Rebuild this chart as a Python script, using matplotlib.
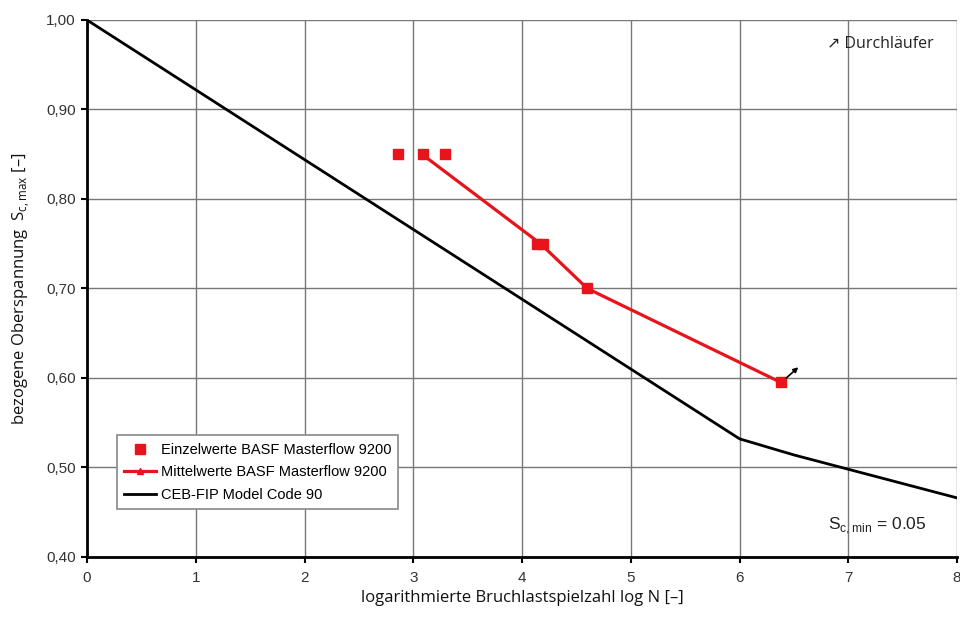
import matplotlib
matplotlib.use("Agg")
import matplotlib.pyplot as plt

# Data
einzel_x = [2.86, 3.09, 3.29, 4.14, 4.19, 4.60, 6.38]
einzel_y = [0.85, 0.85, 0.85, 0.75, 0.75, 0.70, 0.595]
mittel_x = [3.08, 4.17, 4.60, 6.38]
mittel_y = [0.85, 0.75, 0.70, 0.595]
ceb_x = [0, 6, 6.5, 7, 7.5, 8]
ceb_y = [1.00, 0.532, 0.514, 0.498, 0.482, 0.466]
runout_from = (6.43, 0.600)
runout_to = (6.54, 0.612)
xticks = [0, 1, 2, 3, 4, 5, 6, 7, 8]
yticks = [0.40, 0.50, 0.60, 0.70, 0.80, 0.90, 1.00]
ytick_labels = ["0,40", "0,50", "0,60", "0,70", "0,80", "0,90", "1,00"]

plt.rcParams['font.family'] = ['Liberation Sans', 'DejaVu Sans']

fig = plt.figure(figsize=(9.6, 6.19), dpi=100)
ax = fig.add_axes([0.0906, 0.1002, 0.9064, 0.8675])

red = '#e8141c'
ax.plot(ceb_x, ceb_y, color='black', lw=2.0, label='CEB-FIP Model Code 90', zorder=3)
ax.plot(mittel_x, mittel_y, color=red, lw=2.3, marker='^', markersize=4,
        label='Mittelwerte BASF Masterflow 9200', zorder=4)
ax.plot(einzel_x, einzel_y, ls='none', marker='s', color=red, markersize=7,
        label='Einzelwerte BASF Masterflow 9200', zorder=5)
ax.annotate('', xy=runout_to, xytext=runout_from,
            arrowprops=dict(arrowstyle='-|>', color='black', lw=1.2,
                            mutation_scale=7, shrinkA=0, shrinkB=0), zorder=6)

ax.set_xlim(0, 8)
ax.set_ylim(0.40, 1.00)
ax.set_xticks(xticks)
ax.set_yticks(yticks)
ax.set_yticklabels(ytick_labels)
ax.grid(True, color='#777777', lw=1.0)
ax.set_axisbelow(True)
for s in ['top', 'right']:
    ax.spines[s].set_visible(False)
for s in ['left', 'bottom']:
    ax.spines[s].set_linewidth(2.0)
ax.tick_params(axis='both', direction='out', length=4, width=1.5,
               labelsize=11, labelcolor='#333333')
ax.tick_params(axis='y', pad=4)
ax.tick_params(axis='x', pad=6)

ax.set_xlabel('logarithmierte Bruchlastspielzahl log N [–]', fontsize=12,
              family=['Open Sans', 'DejaVu Sans'], labelpad=4, color='#111111')
ax.set_ylabel(r'bezogene Oberspannung  S$_{\mathregular{c,max}}$ [–]', fontsize=12,
              family=['Open Sans', 'DejaVu Sans'], labelpad=10, color='#111111')

ax.text(0.973, 0.955, '↗ Durchläufer', transform=ax.transAxes, ha='right', va='center',
        fontsize=11.5, family=['Open Sans', 'DejaVu Sans'], color='#222222')
ax.text(0.965, 0.058, r'S$_{\mathregular{c,min}}$ = 0.05', transform=ax.transAxes,
        ha='right', va='center', fontsize=12.5, color='#222222')

handles, labels = ax.get_legend_handles_labels()
order = [2, 1, 0]
leg = ax.legend([handles[i] for i in order], [labels[i] for i in order],
                loc='upper left', bbox_to_anchor=(0.026, 0.24), fontsize=10.5,
                frameon=True, fancybox=False, edgecolor='#888888', framealpha=1,
                handlelength=2.2, borderpad=0.5, labelspacing=0.6, handletextpad=0.3)
leg.get_frame().set_linewidth(1.2)

fig.savefig('out.png', dpi=100)
